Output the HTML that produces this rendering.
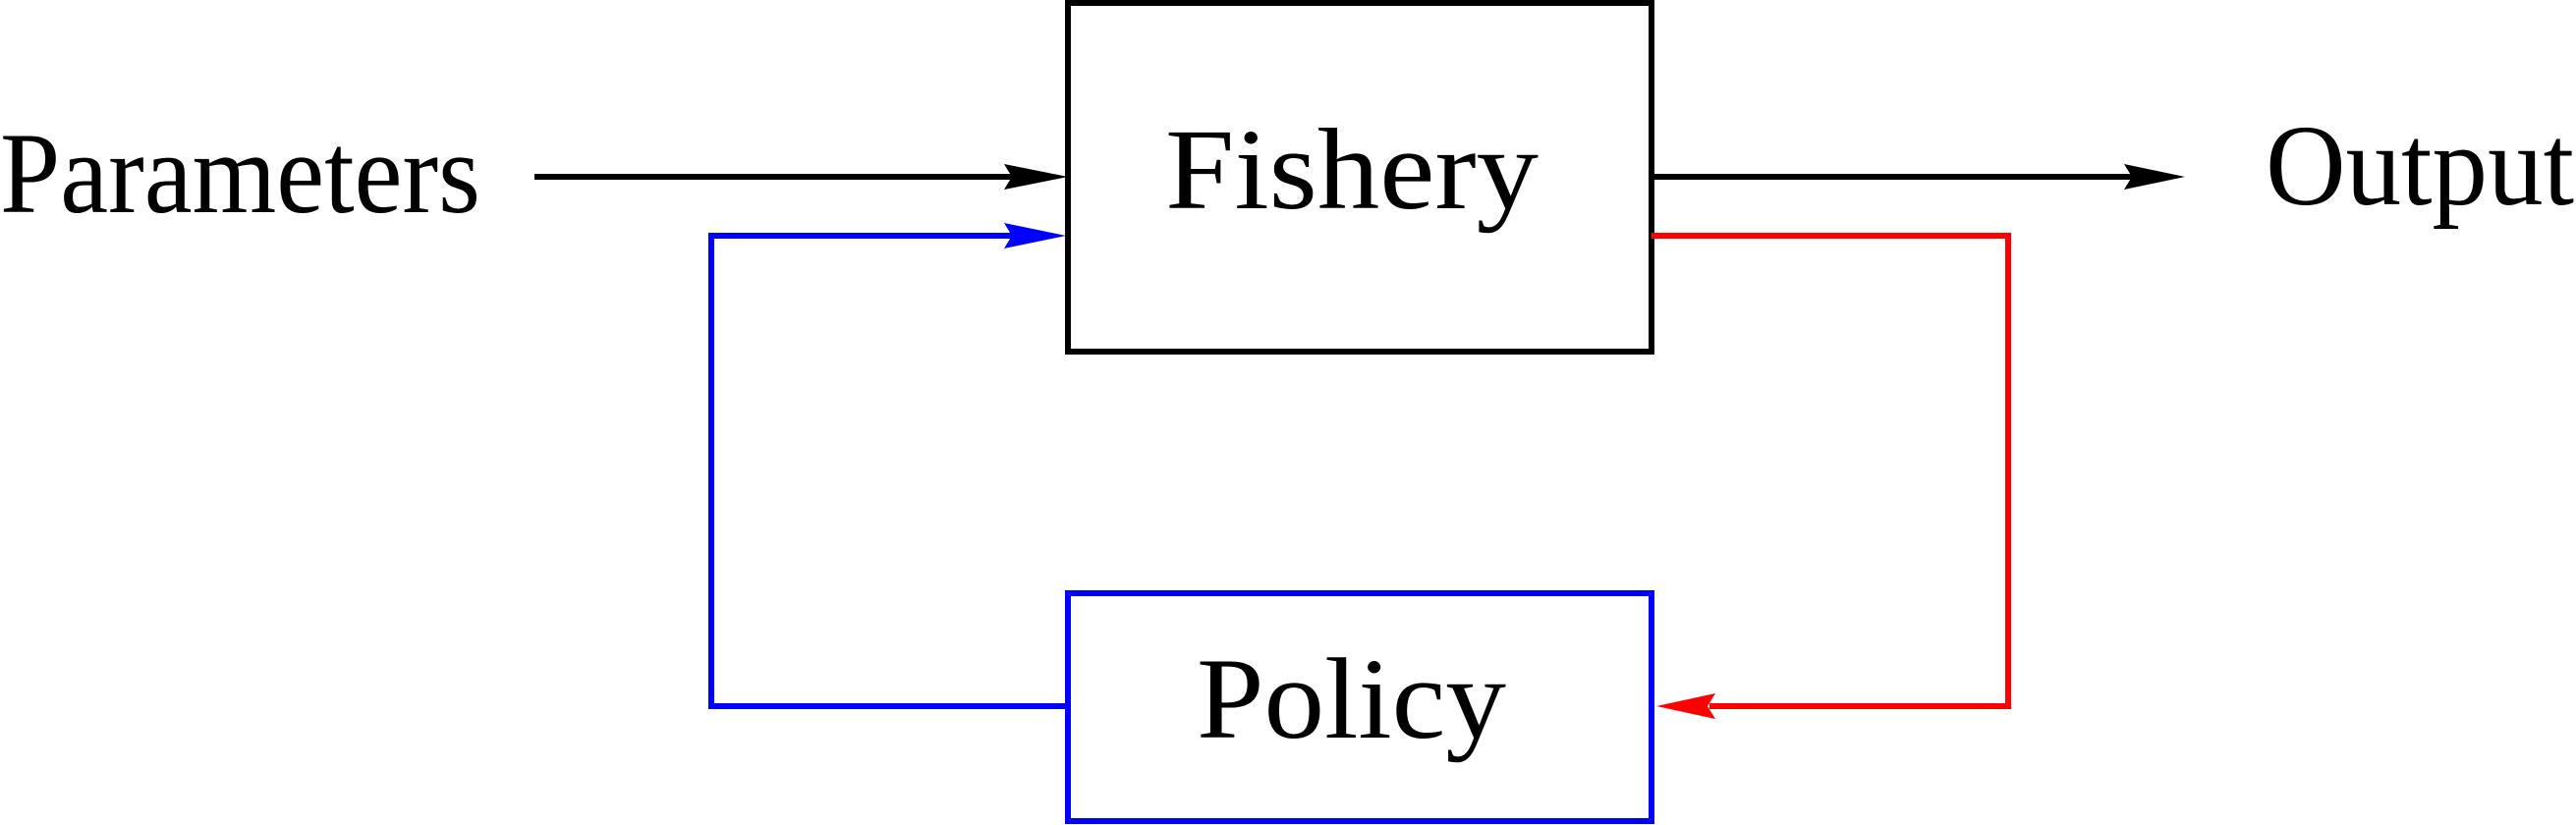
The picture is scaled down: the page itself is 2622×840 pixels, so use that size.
<!DOCTYPE html>
<html><head><style>html,body{margin:0;padding:0;background:#fff}</style></head>
<body>
<svg width="2622" height="840" viewBox="0 0 2622 840" xmlns="http://www.w3.org/2000/svg" style="display:block">
<g font-family="'Liberation Serif', serif" font-size="118" fill="#000">
<text x="0" y="216" textLength="489" lengthAdjust="spacingAndGlyphs">Parameters</text>
<text x="2306" y="208" textLength="314" lengthAdjust="spacingAndGlyphs">Output</text>
<text x="1186" y="212" textLength="380" lengthAdjust="spacingAndGlyphs">Fishery</text>
<text x="1218" y="751" textLength="315" lengthAdjust="spacingAndGlyphs">Policy</text>
</g>
<rect x="1087" y="3" width="594" height="355" fill="none" stroke="#000" stroke-width="6"/>
<rect x="1087" y="604" width="594" height="232" fill="none" stroke="#0000ff" stroke-width="6"/>
<line x1="544" y1="180" x2="1030" y2="180" stroke="#000" stroke-width="6"/>
<path d="M1022 167 L1087 180 L1022 193 L1030 180 Z" fill="#000"/>
<line x1="1681" y1="180" x2="2170" y2="180" stroke="#000" stroke-width="6"/>
<path d="M2162 167 L2224 180 L2162 193 L2170 180 Z" fill="#000"/>
<polyline points="1087,719 724,719 724,240 1030,240" fill="none" stroke="#0000ff" stroke-width="6"/>
<path d="M1022 227 L1085 240 L1022 253 L1030 240 Z" fill="#0000ff"/>
<polyline points="1681,240 2044,240 2044,719 1740,719" fill="none" stroke="#ff0000" stroke-width="6"/>
<path d="M1746 706 L1686 719 L1746 732 L1738 719 Z" fill="#ff0000"/>
</svg>
</body></html>
